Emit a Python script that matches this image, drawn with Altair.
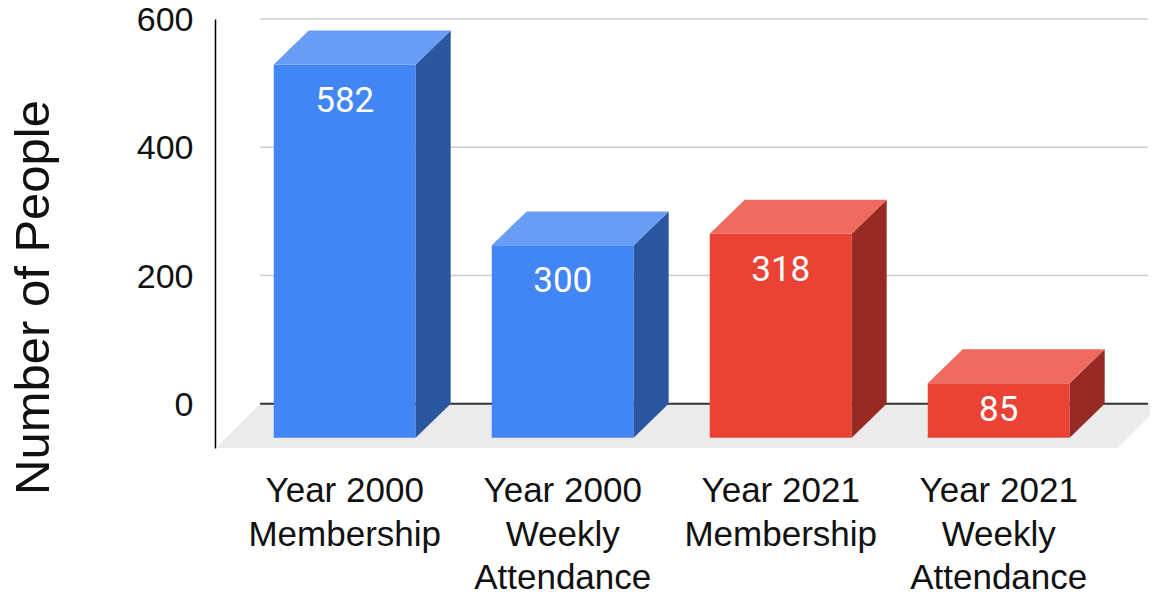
import altair as alt
import pandas as pd

# ---- data ----
categories = [
    "Year 2000\nMembership",
    "Year 2000\nWeekly\nAttendance",
    "Year 2021\nMembership",
    "Year 2021\nWeekly\nAttendance",
]
values = [582, 300, 318, 85]
series = ["2000", "2000", "2021", "2021"]
y_ticks = [0, 200, 400, 600]

df = pd.DataFrame({
    "category": categories,
    "value": values,
    "series": series,
    "i": list(range(len(categories))),
})
grid_df = pd.DataFrame({"v": y_ticks})

# ---- 3D geometry (style constants, in scale units) ----
W = 0.651        # front face width (category units)
DX = 0.1606      # bar depth, x
D = 53.0         # bar depth, y units
FLOOR_DX = 0.2018
FLOOR_DY = 69.0
FLOOR_L = -0.59
FLOOR_R = 0.545
GRID_X1 = FLOOR_L + FLOOR_DX
GRID_X2 = len(categories) - 1 + 0.685
LABEL_DOWN = 56.1

xscale = alt.Scale(domain=[-0.595, 3.694], nice=False, zero=False)
yscale = alt.Scale(domain=[-FLOOR_DY, 600], nice=False, zero=False)
sdom = ["2000", "2021"]
front_cols = ["#4285F4", "#EA4335"]
side_cols = ["#2B56A0", "#982A24"]
top_cols = ["#699CF5", "#EE6A5F"]

yaxis = alt.Axis(
    values=y_ticks, grid=False, ticks=False, domain=True,
    domainColor="#000000", domainWidth=1.5,
    labelFont="Liberation Sans", labelFontSize=34, labelColor="#111111",
    labelPadding=22, labelFlush=False, labelBound=False, labelOffset=1.5,
    title="Number of People", titleFont="Liberation Sans", titleFontSize=49,
    titleFontWeight="normal", titleColor="#111111",
    titleX=-182, titleY=278, titleAngle=270,
    titleAlign="center", titleBaseline="middle",
)


def Y(field, **kw):
    return alt.Y(field, scale=yscale, axis=yaxis, title="Number of People", **kw)


base = alt.Chart(df)

floor = (
    base.transform_aggregate(imin="min(i)", imax="max(i)")
    .transform_calculate(c="[0,1]")
    .transform_flatten(["c"])
    .transform_calculate(
        fy=f"(datum.c - 1) * {FLOOR_DY}",
        fx=f"datum.imin + ({FLOOR_L}) + datum.c * {FLOOR_DX}",
        fxe=f"datum.imax + {FLOOR_R} + datum.c * {FLOOR_DX}",
    )
    .mark_area(orient="horizontal", color="#EBEBEB")
    .encode(
        y=Y("fy:Q", stack=None),
        x=alt.X("fx:Q", scale=xscale, axis=None, stack=None),
        x2="fxe:Q",
    )
)

grid = (
    alt.Chart(grid_df)
    .transform_calculate(gx=f"{GRID_X1}", gxe=f"{GRID_X2}")
    .mark_rule()
    .encode(
        y=Y("v:Q"),
        x=alt.X("gx:Q", scale=xscale, axis=None),
        x2="gxe:Q",
        color=alt.condition("datum.v == 0", alt.value("#333333"), alt.value("#CCCCCC")),
        strokeWidth=alt.condition("datum.v == 0", alt.value(2), alt.value(1.5)),
    )
)

front = (
    base.transform_calculate(
        bx=f"datum.i - {W / 2}",
        bxe=f"datum.i + {W / 2}",
        by=f"datum.value - {D}",
        bye=f"-{D}",
    )
    .mark_rect()
    .encode(
        x=alt.X("bx:Q", scale=xscale, axis=None),
        x2="bxe:Q",
        y=Y("by:Q"),
        y2="bye:Q",
        color=alt.Color("series:N", scale=alt.Scale(domain=sdom, range=front_cols), legend=None),
    )
)

side = (
    base.transform_calculate(c="[0,1]")
    .transform_flatten(["c"])
    .transform_calculate(
        sx=f"datum.i + {W / 2} + datum.c * {DX}",
        sy=f"datum.value - {D} + datum.c * {D}",
        sye=f"-{D} + datum.c * {D}",
    )
    .mark_area(orient="vertical")
    .encode(
        x=alt.X("sx:Q", scale=xscale, axis=None),
        y=Y("sy:Q", stack=None),
        y2="sye:Q",
        detail="category:N",
        color=alt.Color("series:N", scale=alt.Scale(domain=sdom, range=side_cols), legend=None),
    )
)

top = (
    base.transform_calculate(c="[0,1]")
    .transform_flatten(["c"])
    .transform_calculate(
        ty=f"datum.value - {D} + datum.c * {D}",
        tx=f"datum.i - {W / 2} + datum.c * {DX}",
        txe=f"datum.i + {W / 2} + datum.c * {DX}",
    )
    .mark_area(orient="horizontal")
    .encode(
        y=Y("ty:Q"),
        x=alt.X("tx:Q", scale=xscale, axis=None, stack=None),
        x2="txe:Q",
        detail="category:N",
        color=alt.Color("series:N", scale=alt.Scale(domain=sdom, range=top_cols), legend=None),
    )
)

vlabels = (
    base.transform_calculate(ly=f"max(datum.value - {LABEL_DOWN}, datum.value / 2) - {D}")
    .mark_text(font="Roboto", fontSize=35, color="white", align="center", baseline="middle")
    .encode(
        x=alt.X("i:Q", scale=xscale, axis=None),
        y=Y("ly:Q"),
        text=alt.Text("value:Q"),
    )
)

clabels = (
    base.transform_calculate(lines="split(datum.category, '\\n')")
    .mark_text(font="Liberation Sans", fontSize=35, lineHeight=43.5,
               align="center", baseline="alphabetic", color="#111111")
    .encode(
        x=alt.X("i:Q", scale=xscale, axis=None),
        y=alt.value(483),
        text=alt.Text("lines:N"),
    )
)

chart = (
    alt.layer(floor, grid, front, side, top, vlabels, clabels)
    .resolve_scale(color="independent")
    .properties(
        width=935, height=429,
        padding={"left": 207, "top": 11, "right": 0, "bottom": 148},
        autosize=alt.AutoSizeParams(type="none"),
    )
    .configure_view(stroke=None)
)

chart.save("out.html", embed_options={"renderer": "svg", "actions": False})
